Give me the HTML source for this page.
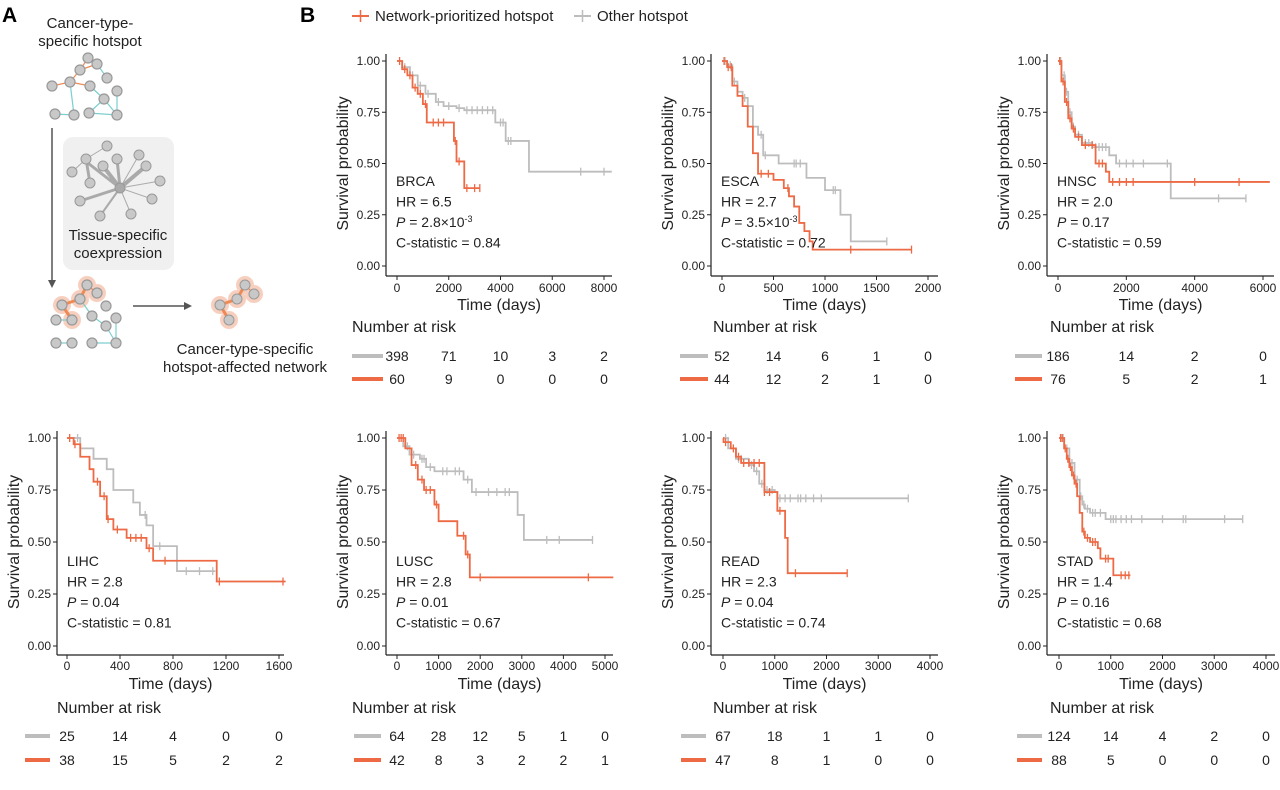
<!DOCTYPE html>
<html><head><meta charset="utf-8"><style>
body{margin:0;background:#fff;width:1280px;height:785px;overflow:hidden;font-family:"Liberation Sans",Arial,sans-serif}
svg text{font-family:"Liberation Sans",Arial,sans-serif}
</style></head><body>
<svg id="fig" width="1280" height="785" viewBox="0 0 1280 785">
<g>
 <text x="2" y="22" font-size="21" font-weight="bold">A</text>
 <text x="90" y="28" font-size="15" text-anchor="middle" fill="#222"><tspan x="90">Cancer-type-</tspan><tspan x="90" dy="18">specific hotspot</tspan></text>
 <g stroke-width="1.2">
  <line x1="88" y1="58" x2="80" y2="70" stroke="#ee8a55"/><line x1="80" y1="70" x2="97" y2="64" stroke="#ee8a55"/><line x1="97" y1="64" x2="107" y2="78" stroke="#7ccfcf"/>
  <line x1="80" y1="70" x2="70" y2="82" stroke="#ee8a55"/><line x1="70" y1="82" x2="52" y2="86" stroke="#ee8a55"/><line x1="70" y1="82" x2="90" y2="86" stroke="#ee8a55"/>
  <line x1="70" y1="82" x2="74" y2="115" stroke="#7ccfcf"/><line x1="90" y1="86" x2="104" y2="99" stroke="#7ccfcf"/><line x1="104" y1="99" x2="117" y2="115" stroke="#7ccfcf"/>
  <line x1="117" y1="115" x2="117" y2="91" stroke="#7ccfcf"/><line x1="104" y1="99" x2="89" y2="113" stroke="#7ccfcf"/><line x1="89" y1="113" x2="117" y2="115" stroke="#7ccfcf"/><line x1="55" y1="114" x2="74" y2="115" stroke="#7ccfcf"/>
  <g fill="#c8c8c8" stroke="#999"><circle cx="88" cy="58" r="5"/><circle cx="80" cy="70" r="5"/><circle cx="97" cy="64" r="5"/><circle cx="107" cy="78" r="5"/><circle cx="52" cy="86" r="5"/><circle cx="70" cy="82" r="5"/><circle cx="90" cy="86" r="5"/><circle cx="104" cy="99" r="5"/><circle cx="117" cy="91" r="5"/><circle cx="89" cy="113" r="5"/><circle cx="117" cy="115" r="5"/><circle cx="55" cy="114" r="5"/><circle cx="74" cy="115" r="5"/></g>
 </g>
 <line x1="52" y1="128" x2="52" y2="282" stroke="#555" stroke-width="1.5"/>
 <polygon points="48,280 56,280 52,288" fill="#555"/>
 <rect x="63" y="137" width="111" height="133" rx="10" fill="#f0f0f0"/>
 <g stroke="#aaa">
  <line x1="120" y1="188" x2="84" y2="160" stroke-width="3"/><line x1="120" y1="188" x2="103" y2="166" stroke-width="4"/><line x1="120" y1="188" x2="117" y2="159" stroke-width="3"/><line x1="120" y1="188" x2="139" y2="155" stroke-width="1"/><line x1="120" y1="188" x2="146" y2="166" stroke-width="4"/><line x1="120" y1="188" x2="160" y2="181" stroke-width="1"/><line x1="120" y1="188" x2="152" y2="199" stroke-width="1"/><line x1="120" y1="188" x2="80" y2="201" stroke-width="3"/><line x1="120" y1="188" x2="100" y2="216" stroke-width="2"/><line x1="120" y1="188" x2="131" y2="214" stroke-width="1"/>
  <line x1="86" y1="159" x2="107" y2="146" stroke-width="1"/><line x1="86" y1="159" x2="72" y2="172" stroke-width="1"/><line x1="86" y1="159" x2="90" y2="183" stroke-width="3"/>
  <g fill="#c8c8c8" stroke="#999" stroke-width="1"><circle cx="107" cy="146" r="5"/><circle cx="86" cy="159" r="5"/><circle cx="117" cy="159" r="5"/><circle cx="139" cy="155" r="5"/><circle cx="103" cy="166" r="5"/><circle cx="146" cy="166" r="5"/><circle cx="72" cy="172" r="5"/><circle cx="160" cy="181" r="5"/><circle cx="90" cy="183" r="5"/><circle cx="120" cy="188" r="5" fill="#aaa"/><circle cx="152" cy="199" r="5"/><circle cx="80" cy="201" r="5"/><circle cx="100" cy="216" r="5"/><circle cx="131" cy="214" r="5"/></g>
 </g>
 <text x="118" y="240" font-size="15" text-anchor="middle" fill="#222"><tspan x="118">Tissue-specific</tspan><tspan x="118" dy="18">coexpression</tspan></text>
 <g stroke-width="1.2">
  <g fill="#f6c4b0" opacity="0.8"><circle cx="87" cy="285" r="9"/><circle cx="97" cy="293" r="9"/><circle cx="80" cy="299" r="9"/><circle cx="62" cy="305" r="9"/><circle cx="72" cy="320" r="9"/></g>
  <line x1="87" y1="285" x2="80" y2="299" stroke="#ee8a55" stroke-width="3"/><line x1="80" y1="299" x2="62" y2="305" stroke="#ee8a55" stroke-width="3"/><line x1="62" y1="305" x2="72" y2="320" stroke="#ee8a55" stroke-width="3"/><line x1="87" y1="285" x2="97" y2="293" stroke="#ee8a55"/>
  <line x1="80" y1="299" x2="92" y2="316" stroke="#7ccfcf"/><line x1="92" y1="316" x2="106" y2="326" stroke="#7ccfcf"/><line x1="106" y1="326" x2="116" y2="343" stroke="#7ccfcf"/><line x1="116" y1="343" x2="116" y2="318" stroke="#7ccfcf"/><line x1="92" y1="343" x2="116" y2="343" stroke="#7ccfcf"/><line x1="56" y1="343" x2="72" y2="343" stroke="#7ccfcf"/><line x1="56" y1="320" x2="72" y2="320" stroke="#7ccfcf"/>
  <g fill="#c8c8c8" stroke="#999"><circle cx="87" cy="285" r="5"/><circle cx="97" cy="293" r="5"/><circle cx="80" cy="299" r="5"/><circle cx="62" cy="305" r="5"/><circle cx="72" cy="320" r="5"/><circle cx="56" cy="320" r="5"/><circle cx="106" cy="306" r="5"/><circle cx="92" cy="316" r="5"/><circle cx="116" cy="318" r="5"/><circle cx="106" cy="326" r="5"/><circle cx="56" cy="343" r="5"/><circle cx="72" cy="343" r="5"/><circle cx="92" cy="343" r="5"/><circle cx="116" cy="343" r="5"/></g>
 </g>
 <line x1="133" y1="306" x2="185" y2="306" stroke="#555" stroke-width="1.5"/>
 <polygon points="184,302 192,306 184,310" fill="#555"/>
 <g>
  <g fill="#f6c4b0" opacity="0.8"><circle cx="245" cy="285" r="9"/><circle cx="254" cy="294" r="9"/><circle cx="237" cy="299" r="9"/><circle cx="220" cy="305" r="9"/><circle cx="229" cy="320" r="9"/></g>
  <g stroke="#ee8a55" stroke-width="3"><line x1="245" y1="285" x2="237" y2="299"/><line x1="237" y1="299" x2="220" y2="305"/><line x1="220" y1="305" x2="229" y2="320"/><line x1="245" y1="285" x2="254" y2="294" stroke-width="1.2"/></g>
  <g fill="#c8c8c8" stroke="#999"><circle cx="245" cy="285" r="5"/><circle cx="254" cy="294" r="5"/><circle cx="237" cy="299" r="5"/><circle cx="220" cy="305" r="5"/><circle cx="229" cy="320" r="5"/></g>
 </g>
 <text x="245" y="354" font-size="15" text-anchor="middle" fill="#222"><tspan x="245">Cancer-type-specific</tspan><tspan x="245" dy="18">hotspot-affected network</tspan></text>
</g>
<text x="300" y="22" font-size="21" font-weight="bold">B</text>
<g>
 <g><line x1="352" y1="16" x2="369" y2="16" stroke="#EE6A45" stroke-width="2"/><line x1="360.5" y1="10" x2="360.5" y2="22" stroke="#EE6A45" stroke-width="1.5"/><text x="375" y="21" font-size="15" fill="#222">Network-prioritized hotspot</text></g>
 <g><line x1="574" y1="16" x2="591" y2="16" stroke="#BDBDBD" stroke-width="2"/><line x1="582.5" y1="10" x2="582.5" y2="22" stroke="#BDBDBD" stroke-width="1.5"/><text x="597" y="21" font-size="15" fill="#222">Other hotspot</text></g>
</g>
<g id="panels"></g>
</svg>
<script>
const cancerTypes=["BRCA","ESCA","HNSC","LIHC","LUSC","READ","STAD"];
const hrValues=["6.5","2.7","2.0","2.8","2.8","2.3","1.4"];
const pValues=["2.8×10|-3","3.5×10|-3","0.17","0.04","0.01","0.04","0.16"];
const cStats=["0.84","0.72","0.59","0.81","0.67","0.74","0.68"];
const xTicks=[[0,2000,4000,6000,8000],[0,500,1000,1500,2000],[0,2000,4000,6000],[0,400,800,1200,1600],[0,1000,2000,3000,4000,5000],[0,1000,2000,3000,4000],[0,1000,2000,3000,4000]];
const yTicks=[0,0.25,0.5,0.75,1];
const riskOther=[[398,71,10,3,2],[52,14,6,1,0],[186,14,2,0],[25,14,4,0,0],[64,28,12,5,1,0],[67,18,1,1,0],[124,14,4,2,0]];
const riskNet=[[60,9,0,0,0],[44,12,2,1,0],[76,5,2,1],[38,15,5,2,2],[42,8,3,2,2,1],[47,8,1,0,0],[88,5,0,0,0]];
const netSteps=[
[[0,1],[200,0.96],[400,0.93],[600,0.87],[800,0.84],[1000,0.79],[1150,0.70],[2200,0.61],[2300,0.51],[2600,0.38]],
[[0,1],[50,0.97],[100,0.88],[150,0.83],[200,0.78],[250,0.68],[300,0.55],[350,0.45],[500,0.42],[600,0.38],[650,0.34],[700,0.29],[750,0.21],[800,0.17],[850,0.12],[880,0.08]],
[[0,1],[100,0.9],[200,0.8],[300,0.72],[400,0.67],[500,0.63],[700,0.59],[1100,0.5],[1400,0.46],[1500,0.41]],
[[0,1],[50,0.97],[100,0.91],[170,0.85],[200,0.79],[250,0.72],[300,0.61],[350,0.56],[450,0.52],[600,0.47],[650,0.41],[1130,0.31]],
[[0,1],[200,0.95],[350,0.87],[500,0.8],[650,0.75],[900,0.68],[1000,0.6],[1450,0.53],[1650,0.44],[1750,0.33]],
[[0,1],[10,0.98],[150,0.95],[250,0.91],[350,0.88],[800,0.74],[1050,0.65],[1200,0.52],[1250,0.35]],
[[0,1],[100,0.95],[150,0.9],[200,0.86],[250,0.82],[300,0.78],[350,0.72],[400,0.64],[450,0.55],[500,0.52],[600,0.5],[750,0.47],[800,0.42],[1050,0.34]]];
const netEnd=[3200,1840,6200,1650,5200,2400,1380];
const netCensor=[[100,300,500,700,900,1100,1400,1600,1800,2250,2400,2700,3000,3200],[20,60,90,380,450,640,1250,1840],[50,150,250,350,450,600,800,1000,1200,1300,1600,1800,2000,2200,4000,5300],[20,60,230,280,310,380,480,520,560,620,740,1150,1630],[50,100,150,450,600,700,800,950,1600,1700,2000,4600],[50,200,300,400,500,600,700,800,900,1100,1400,2400],[30,60,120,170,220,280,330,480,550,650,700,900,950,1200,1280,1350]];
const otherSteps=[
[[0,1],[200,0.97],[500,0.93],[800,0.88],[1100,0.84],[1500,0.8],[1800,0.78],[2300,0.77],[2600,0.76],[3800,0.7],[4200,0.61],[5100,0.46]],
[[0,1],[50,0.98],[100,0.9],[150,0.85],[200,0.82],[250,0.78],[300,0.68],[350,0.64],[400,0.54],[550,0.5],[820,0.43],[1000,0.37],[1150,0.25],[1250,0.12]],
[[0,1],[100,0.93],[200,0.85],[300,0.75],[400,0.68],[500,0.64],[700,0.6],[1000,0.58],[1500,0.54],[1700,0.5],[3300,0.33]],
[[0,1],[100,0.95],[200,0.9],[300,0.85],[350,0.75],[500,0.69],[550,0.63],[600,0.58],[650,0.48],[830,0.36]],
[[0,1],[150,0.96],[300,0.92],[550,0.9],[700,0.86],[900,0.84],[1600,0.8],[1800,0.74],[2900,0.63],[3050,0.51]],
[[0,1],[100,0.95],[250,0.9],[500,0.87],[600,0.84],[700,0.78],[800,0.75],[1000,0.74],[1050,0.71]],
[[0,1],[100,0.95],[200,0.88],[300,0.8],[400,0.72],[450,0.68],[500,0.66],[600,0.64],[900,0.61]]];
const otherEnd=[8300,1600,5500,1120,4700,3580,3550];
const otherCensor=[[300,600,900,1200,1600,2000,2400,2700,2900,3100,3300,3500,3700,4000,4100,4300,4400,7100,8000],[30,80,120,220,380,420,700,720,760,1080,1100,1600],[80,180,250,350,450,600,800,900,1100,1200,1300,1400,1800,2000,2200,2500,3200,4700,5500],[80,590,700,900,1000,1100],[250,400,600,650,800,1100,1200,1400,1500,1700,1900,2200,2400,2600,2700,3600,3900,4700],[50,300,350,550,650,750,850,950,1100,1200,1300,1450,1500,1600,1750,1900,3580],[80,150,250,350,420,480,550,650,700,800,1000,1050,1100,1200,1300,1400,1600,2000,2400,2450,3200,3550]];

const L=[
{ax:386,x0:397,x1:604,xe:612,row:0,sw:[352,383],nar:352},
{ax:711,x0:722,x1:928,xe:938,row:0,sw:[680,708],nar:713},
{ax:1047,x0:1058,x1:1263,xe:1274,row:0,sw:[1015,1042],nar:1050},
{ax:57,x0:67,x1:279,xe:284,row:1,sw:[25,50],nar:57},
{ax:386,x0:397,x1:605,xe:613,row:1,sw:[354,381],nar:352},
{ax:711,x0:723,x1:930,xe:938,row:1,sw:[681,706],nar:713},
{ax:1047,x0:1059,x1:1266,xe:1275,row:1,sw:[1017,1042],nar:1050}];
const R=[{y1:61,y0:266,top:54,bot:276,tl:292,tt:310,nar:332,r1:361,r2:384},{y1:438,y0:646,top:431,bot:655,tl:670,tt:689,nar:713,r1:741,r2:765}];
const ORANGE="#EE6A45",GRAY="#BDBDBD",NS="http://www.w3.org/2000/svg";
const root=document.getElementById('panels');
function mk(tag,attrs,parent,text){const e=document.createElementNS(NS,tag);for(const k in attrs)e.setAttribute(k,attrs[k]);if(text!=null)e.textContent=text;parent.appendChild(e);return e;}
function survAt(steps,t){let s=1;for(const p of steps){if(p[0]<=t)s=p[1];}return s;}
cancerTypes.forEach((ct,i)=>{
 const l=L[i],r=R[l.row];
 const tk=xTicks[i],tmax=tk[tk.length-1];
 const sx=t=>l.x0+(t/tmax)*(l.x1-l.x0);
 const sy=v=>r.y0-(v)*(r.y0-r.y1);
 const g=mk('g',{},root);
 
 
 const ax=mk('g',{},g);
 
 
 mk('line',{x1:l.ax,y1:r.top,x2:l.ax,y2:r.bot,stroke:'#222','stroke-width':1.2},ax);
 mk('line',{x1:l.ax,y1:r.bot,x2:l.xe,y2:r.bot,stroke:'#222','stroke-width':1.2},ax);
 yTicks.forEach(v=>{mk('line',{x1:l.ax-4,y1:sy(v),x2:l.ax,y2:sy(v),stroke:'#222'},ax);
  const t=mk('text',{x:l.ax-6,y:sy(v)+4,'font-size':12,'text-anchor':'end',fill:'#222'},ax,v.toFixed(2));
  
  });
 tk.forEach(v=>{mk('line',{x1:sx(v),y1:r.bot,x2:sx(v),y2:r.bot+4,stroke:'#222'},ax);
  const t=mk('text',{x:sx(v),y:r.tl,'font-size':12,'text-anchor':'middle',fill:'#222'},ax,String(v));
  
  });
 const xt=mk('text',{x:(l.ax+l.xe)/2,y:r.tt,'font-size':16,'text-anchor':'middle',fill:'#222'},ax,'Time (days)');
 
 
 const yc=(r.y0+r.y1)/2,yx=l.ax-43;
 const yt=mk('text',{x:yx,y:yc,'font-size':16,'text-anchor':'middle',fill:'#222',transform:`rotate(-90 ${yx} ${yc})`,dy:5},ax,'Survival probability');
 
 
 [[otherSteps[i],otherEnd[i],otherCensor[i],GRAY,'other'],[netSteps[i],netEnd[i],netCensor[i],ORANGE,'network']].forEach(([st,end,cen,col,nm])=>{
  let d=`M${sx(0)},${sy(st[0][1])}`;
  for(let k=1;k<st.length;k++){d+=` H${sx(st[k][0])} V${sy(st[k][1])}`;}
  d+=` H${sx(end)}`;
  const p=mk('path',{d:d,fill:'none',stroke:col,'stroke-width':1.8},g);
  
  
  cen.forEach(c=>{const cx=sx(c),cy=sy(survAt(st,c));
   const m=mk('line',{x1:cx,y1:cy-4,x2:cx,y2:cy+4,stroke:col,'stroke-width':1.3},g);
   
   });
 });
 const ann=mk('text',{x:l.ax+10,'font-size':14,fill:'#222'},g);
 
 
 const ly=r.y0-80;
 mk('tspan',{x:l.ax+10,y:ly},ann,ct);
 mk('tspan',{x:l.ax+10,y:ly+20.5},ann,'HR = '+hrValues[i]);
 const pl=mk('tspan',{x:l.ax+10,y:ly+41},ann);
 mk('tspan',{'font-style':'italic'},pl,'P');
 const pv=pValues[i].split('|');
 mk('tspan',{},pl,' = '+pv[0]);
 if(pv[1])mk('tspan',{dy:-5,'font-size':9},pl,pv[1]);
 mk('tspan',{x:l.ax+10,y:ly+61.5},ann,'C-statistic = '+cStats[i]);
 const nt=mk('text',{x:l.nar,y:r.nar,'font-size':16,fill:'#222'},g,'Number at risk');
 
 
 [[riskOther[i],GRAY,r.r1,'other'],[riskNet[i],ORANGE,r.r2,'network']].forEach(([vals,col,y,nm])=>{
  const sw=mk('line',{x1:l.sw[0],y1:y-5,x2:l.sw[1],y2:y-5,stroke:col,'stroke-width':4},g);
  
  
  vals.forEach((v,k)=>{const x=sx(tk[k]);
   const t=mk('text',{x:x,y:y,'font-size':14,'text-anchor':'middle',fill:'#222'},g,String(v));
   
   });
 });
});
</script>
</body></html>
